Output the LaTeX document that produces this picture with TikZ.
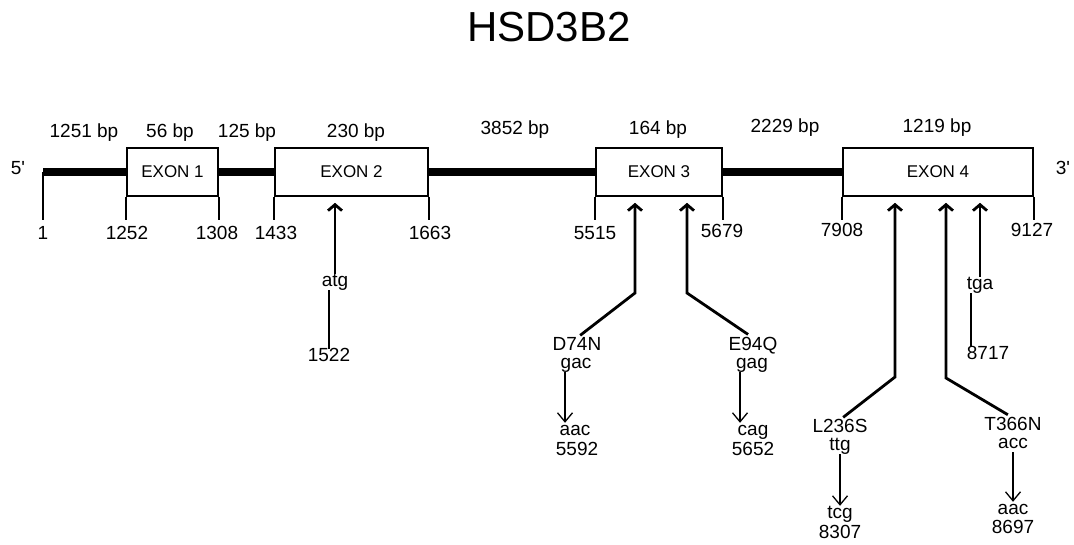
\documentclass[tikz,border=0pt]{standalone}
\usepackage{fontspec}
\setmainfont{Liberation Sans}
\usetikzlibrary{arrows.meta}
\newcommand\titlefont{\fontsize{42}{46}\selectfont}
\newcommand\labfont{\fontsize{19}{21}\selectfont}
\newcommand\exonfont{\fontsize{17}{19}\selectfont}
\begin{document}
\begin{tikzpicture}[x=1pt,y=-1pt,
  exon/.style={draw,rectangle,line width=1.6pt,minimum height=48pt,inner sep=0pt,font=\exonfont},
  lbl/.style={inner sep=0.5pt,text height=12pt,text depth=3pt,font=\labfont},
  intron/.style={line width=8pt},
  tick/.style={line width=1.6pt},
  mut/.style={line width=2.8pt,-{Straight Barb[length=6pt,width=14pt]},shorten >=6pt},
  sub/.style={line width=1.3pt,-{Straight Barb[length=9pt,width=15pt]}},
  link/.style={line width=1.6pt}]
\useasboundingbox (0,0) rectangle (1074,545);
\node[font=\titlefont,inner sep=0pt] (title) at (549,27) {HSD3B2};
\node[exon,minimum width=91pt] (e1) at (172.5,172) {EXON 1};
\node[exon,minimum width=153pt] (e2) at (351.5,172) {EXON 2};
\node[exon,minimum width=126pt] (e3) at (659,172) {EXON 3};
\node[exon,minimum width=190pt] (e4) at (938,172) {EXON 4};
\coordinate (s) at (43,172);
\coordinate (tk) at (0,220);
\draw[intron] (s) -- (e1);
\draw[intron] (e1) -- (e2);
\draw[intron] (e2) -- (e3);
\draw[intron] (e3) -- (e4);
\node[lbl] (five) at (18,170) {5\textquotesingle};
\node[lbl] (three) at (1063,170) {3\textquotesingle};
\node[lbl] (b1) at (84,133) {1251 bp};
\node[lbl] (b2) at (170,133) {56 bp};
\node[lbl] (b3) at (247,133) {125 bp};
\node[lbl] (b4) at (356,133) {230 bp};
\node[lbl] (b5) at (515,130) {3852 bp};
\node[lbl] (b6) at (658,130) {164 bp};
\node[lbl] (b7) at (785,128) {2229 bp};
\node[lbl] (b8) at (937,128) {1219 bp};
\draw[tick] (s) -- (s |- tk);
\draw[tick] (e1.south west) -- (e1.south west |- tk);
\draw[tick] (e1.south east) -- (e1.south east |- tk);
\draw[tick] (e2.south west) -- (e2.south west |- tk);
\draw[tick] (e2.south east) -- (e2.south east |- tk);
\draw[tick] (e3.south west) -- (e3.south west |- tk);
\draw[tick] (e3.south east) -- (e3.south east |- tk);
\draw[tick] (e4.south west) -- (e4.south west |- tk);
\draw[tick] (e4.south east) -- (e4.south east |- tk);
\node[lbl] (p1) at (43,235) {1};
\node[lbl] (p1252) at (127,235) {1252};
\node[lbl] (p1308) at (217,235) {1308};
\node[lbl] (p1433) at (276,235) {1433};
\node[lbl] (p1663) at (430,235) {1663};
\node[lbl] (p5515) at (595,235) {5515};
\node[lbl] (p5679) at (722,233) {5679};
\node[lbl] (p7908) at (842,232) {7908};
\node[lbl] (p9127) at (1032,232) {9127};
\node[lbl] (atg) at (335,282) {atg};
\node[lbl] (n1522) at (329,357) {1522};
\draw[mut] (atg) -- (atg |- e2.south);
\draw[link] (atg.south -| n1522) -- (n1522);
\node[lbl] (d74n) at (577,346) {D74N};
\node[lbl] (gac) at (576,364) {gac};
\node[lbl] (aac) at (575,431) {aac};
\node[lbl] (n5592) at (577,451) {5592};
\coordinate (k1) at (635,293);
\draw[mut,shorten <=4pt] (d74n.north) -- (k1) -- (k1 |- e3.south);
\draw[sub] ([xshift=-11pt]gac.south) -- ([xshift=-11pt]gac.south |- aac.north);
\node[lbl] (e94q) at (753,346) {E94Q};
\node[lbl] (gag) at (752,364) {gag};
\node[lbl] (cag) at (753,431) {cag};
\node[lbl] (n5652) at (753,451) {5652};
\coordinate (k2) at (687,293);
\draw[mut,shorten <=6pt] (e94q.north) -- (k2) -- (k2 |- e3.south);
\draw[sub] ([xshift=-12pt]gag.south) -- ([xshift=-12pt]gag.south |- cag.north);
\node[lbl] (tga) at (980,285) {tga};
\node[lbl] (n8717) at (988,355) {8717};
\draw[mut] (tga) -- (tga |- e4.south);
\draw[link] ([xshift=-9pt]tga.south) -- ([xshift=-9pt]tga.south |- n8717.north);
\node[lbl] (l236s) at (840,428) {L236S};
\node[lbl] (ttg) at (840,446) {ttg};
\node[lbl] (tcg) at (840,514) {tcg};
\node[lbl] (n8307) at (840,534) {8307};
\coordinate (k3) at (895,377);
\draw[mut,shorten <=4pt] (l236s.north) -- (k3) -- (k3 |- e4.south);
\draw[sub] (ttg) -- (tcg);
\node[lbl] (t366n) at (1013,426) {T366N};
\node[lbl] (acc) at (1013,444) {acc};
\node[lbl] (aac2) at (1013,510) {aac};
\node[lbl] (n8697) at (1013,529) {8697};
\coordinate (k4) at (946,378);
\draw[mut,shorten <=6pt] (t366n.north) -- (k4) -- (k4 |- e4.south);
\draw[sub] (acc) -- (aac2);
\end{tikzpicture}
\end{document}
